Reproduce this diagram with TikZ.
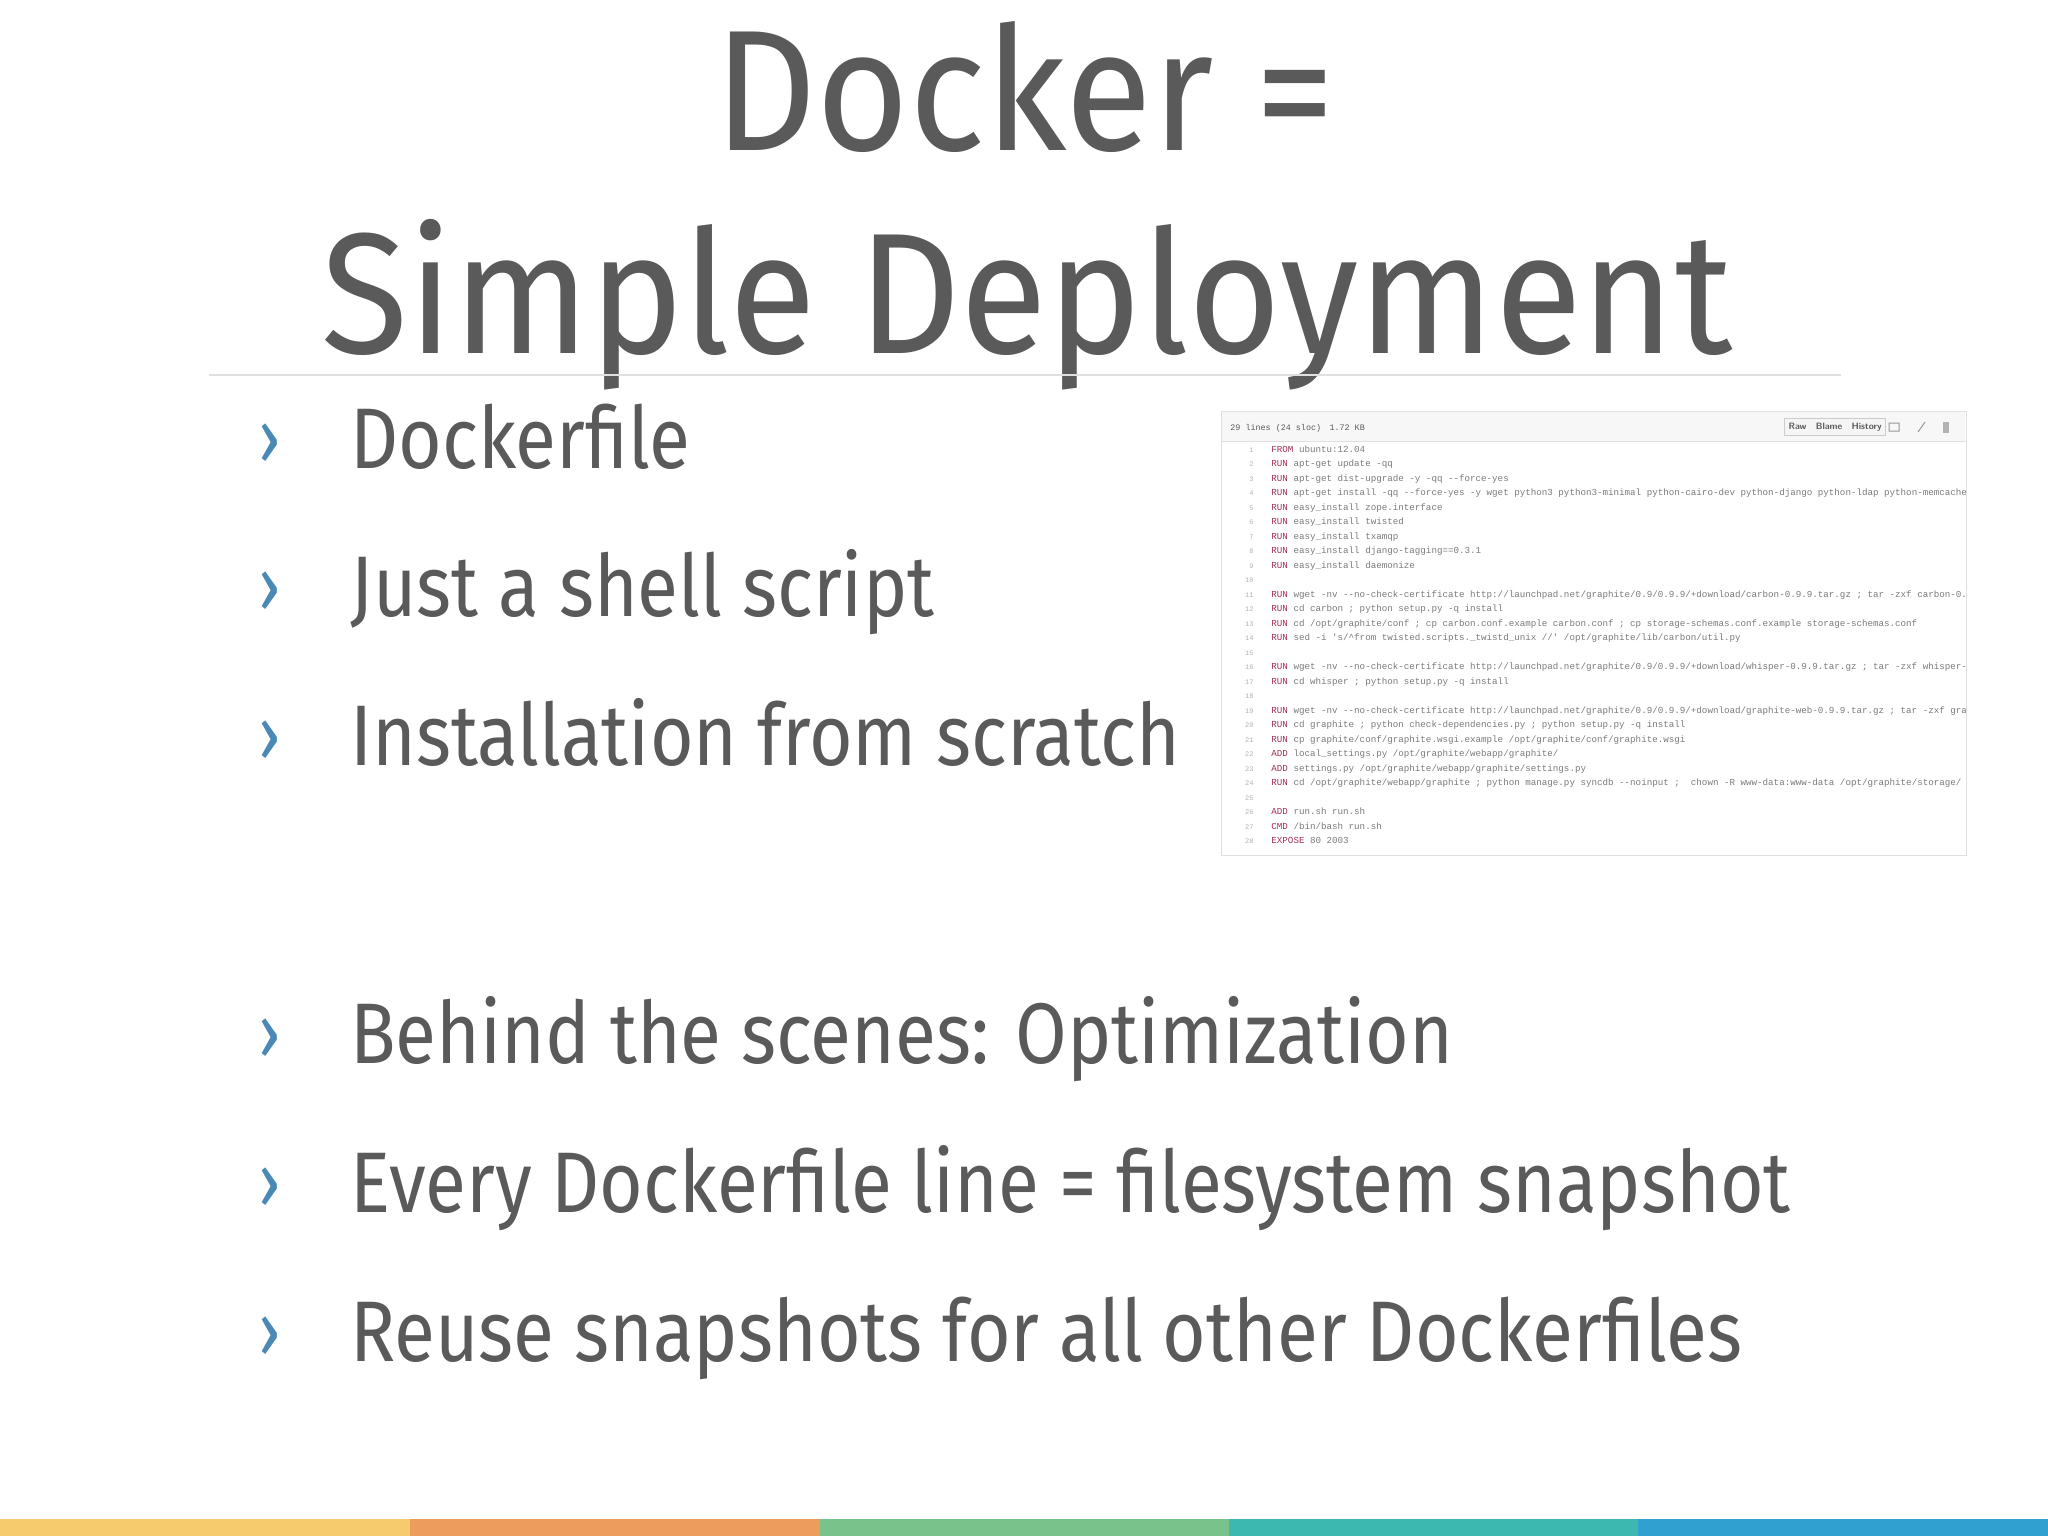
\documentclass[tikz,border=0pt]{standalone}
\usepackage{fontspec}
\setmainfont{Fira Sans}
\newfontfamily\bulletfont{Fira Sans}[FakeStretch=0.87]
\newfontfamily\titlefont{Fira Sans}[FakeStretch=0.925]
\newfontfamily\codefont{Liberation Mono}
\definecolor{txt}{HTML}{5A5A5A}
\definecolor{chev}{HTML}{4A88B5}
\definecolor{kw}{HTML}{A0305A}
\definecolor{cA}{HTML}{F5CB6E}
\definecolor{cB}{HTML}{EE9C5E}
\definecolor{cC}{HTML}{79C28C}
\definecolor{cD}{HTML}{3DB8B0}
\definecolor{cE}{HTML}{2FA0D0}
\begin{document}
\begin{tikzpicture}[x=0.5pt,y=-0.5pt,
 bullet/.style={anchor=base west,inner sep=0,text=txt,font=\bulletfont\fontsize{43}{50}\selectfont},
 chevron/.style={anchor=base west,inner sep=0,text=chev,font=\bulletfont\fontsize{38}{44}\selectfont},
 title/.style={anchor=base,inner sep=0,text=txt,font=\titlefont\fontsize{86}{100}\selectfont},
 codeline/.style={anchor=base west,inner sep=0,text=txt!80,font=\codefont\fontsize{4.6}{5}\selectfont},
 lnum/.style={anchor=base east,inner sep=0,text=black!30,font=\codefont\fontsize{3.5}{4}\selectfont}]
\useasboundingbox[fill=white] (0,0) rectangle (2048,1536);
\node[title] (t1) at (1025,150) {Docker =};
\node[title] (t2) at (1027,353) {Simple Deployment};
\draw[black!12,line width=1.2pt] (209,375) -- (1841,375);
\foreach \y/\t [count=\i] in {468/Dockerfile,616/Just a shell script,765/Installation from scratch,1063/Behind the scenes: Optimization,1212/Every Dockerfile line = filesystem snapshot,1361/Reuse snapshots for all other Dockerfiles}{
 \node[chevron] (c\i) at (258,\y-4) {›};
 \node[bullet] (b\i) at (350,\y) {\t};
}
% code screenshot
\draw[black!12,fill=white] (1221,411) rectangle (1966,855);
\fill[black!3] (1222,412) rectangle (1965,441);
\draw[black!12] (1221,441) -- (1966,441);
\node[anchor=base west,inner sep=0,text=txt,font=\codefont\fontsize{4.2}{5}\selectfont] (hdr) at (1230,430) {29 lines (24 sloc)\quad 1.72 KB};
\node[draw=black!20,fill=black!4,anchor=east,inner sep=2pt,text=txt,font=\sffamily\bfseries\fontsize{4.6}{5}\selectfont] (btn) at (1886,427) {Raw\quad Blame\quad History};
\draw[black!40,line width=0.5pt] (1889,423) rectangle (1899,431) (1918,432) -- (1925,422);
\fill[black!30] (1943,422) rectangle (1949,433);
\begin{scope}
\clip (1222,442) rectangle (1965,854);
\foreach \l [count=\i] in {%
{\textcolor{kw}{FROM} ubuntu:12.04},
{\textcolor{kw}{RUN} apt-get update -qq},
{\textcolor{kw}{RUN} apt-get dist-upgrade -y -qq --force-yes},
{\textcolor{kw}{RUN} apt-get install -qq --force-yes -y wget python3 python3-minimal python-cairo-dev python-django python-ldap python-memcache pyt},
{\textcolor{kw}{RUN} easy\_install zope.interface},
{\textcolor{kw}{RUN} easy\_install twisted},
{\textcolor{kw}{RUN} easy\_install txamqp},
{\textcolor{kw}{RUN} easy\_install django-tagging==0.3.1},
{\textcolor{kw}{RUN} easy\_install daemonize},
{},
{\textcolor{kw}{RUN} wget -nv --no-check-certificate http://launchpad.net/graphite/0.9/0.9.9/+download/carbon-0.9.9.tar.gz ; tar -zxf carbon-0.9.9.},
{\textcolor{kw}{RUN} cd carbon ; python setup.py -q install},
{\textcolor{kw}{RUN} cd /opt/graphite/conf ; cp carbon.conf.example carbon.conf ; cp storage-schemas.conf.example storage-schemas.conf},
{\textcolor{kw}{RUN} sed -i 's/\^{}from twisted.scripts.\_twistd\_unix //' /opt/graphite/lib/carbon/util.py},
{},
{\textcolor{kw}{RUN} wget -nv --no-check-certificate http://launchpad.net/graphite/0.9/0.9.9/+download/whisper-0.9.9.tar.gz ; tar -zxf whisper-0.9.},
{\textcolor{kw}{RUN} cd whisper ; python setup.py -q install},
{},
{\textcolor{kw}{RUN} wget -nv --no-check-certificate http://launchpad.net/graphite/0.9/0.9.9/+download/graphite-web-0.9.9.tar.gz ; tar -zxf graphit},
{\textcolor{kw}{RUN} cd graphite ; python check-dependencies.py ; python setup.py -q install},
{\textcolor{kw}{RUN} cp graphite/conf/graphite.wsgi.example /opt/graphite/conf/graphite.wsgi},
{\textcolor{kw}{ADD} local\_settings.py /opt/graphite/webapp/graphite/},
{\textcolor{kw}{ADD} settings.py /opt/graphite/webapp/graphite/settings.py},
{\textcolor{kw}{RUN} cd /opt/graphite/webapp/graphite ; python manage.py syncdb --noinput ;\ \ chown -R www-data:www-data /opt/graphite/storage/},
{},
{\textcolor{kw}{ADD} run.sh run.sh},
{\textcolor{kw}{CMD} /bin/bash run.sh},
{\textcolor{kw}{EXPOSE} 80 2003}}{
 \node[lnum] (n\i) at (1254,{452+14.5*(\i-1)}) {\i};
 \node[codeline] (l\i) at (1271,{452+14.5*(\i-1)}) {\l};
}
\end{scope}
% bottom bar
\fill[cA] (0,1519) rectangle (410,1536);
\fill[cB] (410,1519) rectangle (820,1536);
\fill[cC] (820,1519) rectangle (1229,1536);
\fill[cD] (1229,1519) rectangle (1638,1536);
\fill[cE] (1638,1519) rectangle (2048,1536);
\end{tikzpicture}
\end{document}
